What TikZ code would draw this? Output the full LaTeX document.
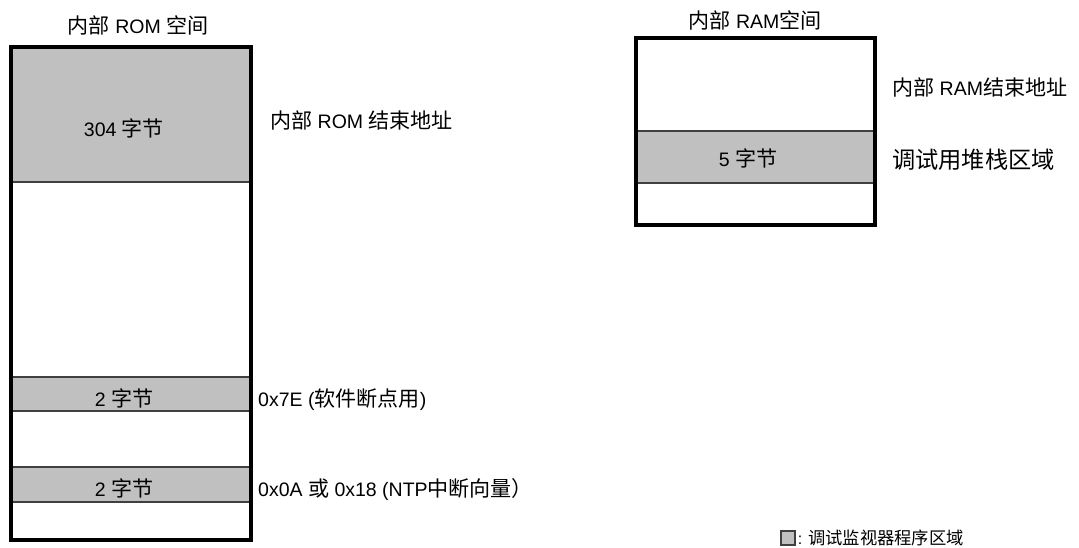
\documentclass[tikz,border=0pt]{standalone}
\usepackage{fontspec}
\setmainfont{Liberation Sans}
\newfontfamily\cjk{Noto Sans CJK SC}[Scale=1.08]
\usetikzlibrary{positioning}
\definecolor{monfill}{RGB}{192,192,192}
\tikzset{
  memframe/.style={line width=4pt},
  memband/.style={draw=black!75,line width=1.2pt,fill=monfill},
  lbl/.style={anchor=west,inner sep=0pt}
}
\begin{document}
\begin{tikzpicture}[x=1pt,y=-1pt,font=\fontsize{19.5}{22}\selectfont]
\useasboundingbox (0,0) rectangle (1079,548);

\draw[memband] (11,47) rectangle (251,182);
\draw[memband] (11,377) rectangle (251,411);
\draw[memband] (11,467) rectangle (251,502);
\draw[memframe] (11,47) rectangle (251,540);
\node (romtitle) at (138,25) {{\cjk 内部} ROM {\cjk 空间}};
\node (rom304) at (124,128) {304 {\cjk 字节}};
\node (rombrk) at (124,398) {2 {\cjk 字节}};
\node (romvec) at (124,488) {2 {\cjk 字节}};
\node (romend) [lbl] at (270,120) {{\cjk 内部} ROM {\cjk 结束地址}};
\node (brkaddr) [lbl] at (258,400) {0x7E ({\cjk 软件断点用})};
\node (vecaddr) [lbl] at (258,490) {0x0A {\cjk 或} 0x18 (NTP{\cjk 中断向量）}};

\draw[memband] (636,131) rectangle (875,183);
\draw[memframe] (636,38) rectangle (875,225);
\node (ramtitle) at (755,20) {{\cjk 内部} RAM{\cjk 空间}};
\node (ram5) at (748,158) {5 {\cjk 字节}};
\node (ramend) [lbl] at (892,87) {{\cjk 内部} RAM{\cjk 结束地址}};
\node (ramstk) [lbl] at (892,160) {\fontsize{21.5}{24}\selectfont\cjk 调试用堆栈区域};

\node (legbox) [memband,minimum size=14pt,inner sep=0pt] at (788,538) {};
\node (legtxt) [lbl,right=2pt of legbox,font=\fontsize{16}{20}\selectfont] {: {\cjk 调试监视器程序区域}};
\end{tikzpicture}
\end{document}
